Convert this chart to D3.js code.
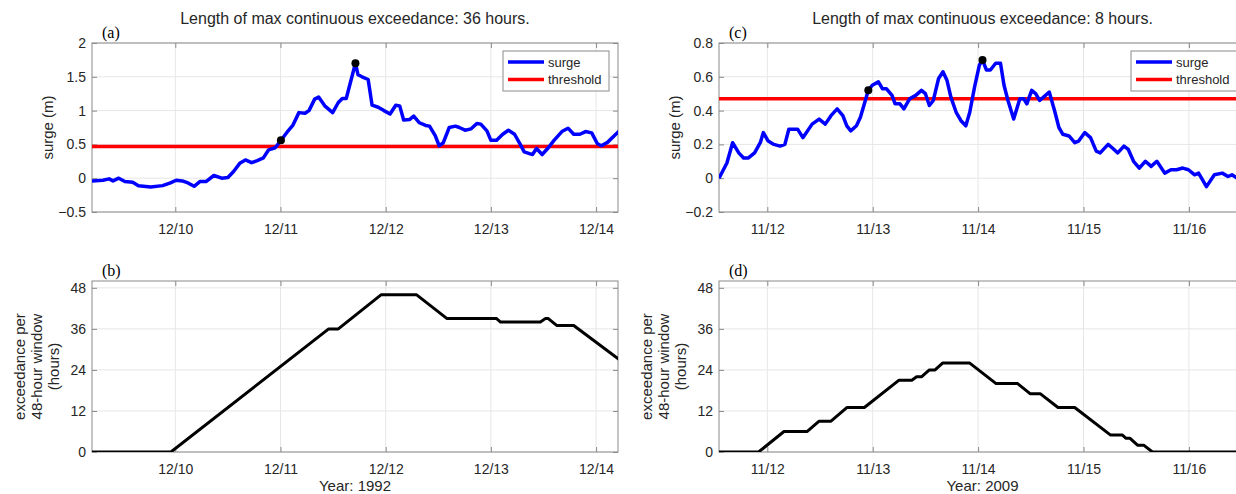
<!DOCTYPE html>
<html>
<head>
<meta charset="utf-8">
<script src="https://cdn.jsdelivr.net/npm/d3@7"></script>
<style>
  body { margin: 0; background: #fff; }
  svg { display: block; }
</style>
</head>
<body>
<div id="chart"></div>
<script>
// ---- data (hour offset from window start, value) ----
var startA = Date.UTC(1992, 11, 9, 5);
var startC = Date.UTC(2009, 10, 11, 13);

var surgeA = [[0,-0.04],[2.5,-0.03],[3.9,-0.01],[4.8,-0.04],[6.1,0.0],[7.5,-0.05],[9.3,-0.06],[10.6,-0.11],
  [13.4,-0.13],[16.1,-0.11],[17.9,-0.07],[19.2,-0.03],[20.6,-0.04],[21.9,-0.07],[23.3,-0.12],[24.6,-0.05],
  [26,-0.05],[27.8,0.04],[29.6,0.0],[31,0.01],[32.3,0.1],[33.7,0.22],[35,0.27],[36.4,0.23],[37.7,0.26],
  [39.1,0.3],[40.3,0.42],[41.8,0.45],[43.1,0.56],[44.5,0.68],[45.8,0.78],[47.2,0.97],[48.6,0.96],[49.5,1.0],
  [50.8,1.17],[51.7,1.2],[53.1,1.07],[54.9,0.97],[56.2,1.12],[57.1,1.18],[58,1.18],[60.1,1.7],[60.7,1.53],
  [61.6,1.5],[63,1.46],[63.9,1.08],[65.3,1.05],[66.6,1.0],[68,0.95],[69.3,1.08],[70.2,1.07],[71.1,0.86],
  [72.5,0.87],[73.4,0.92],[74.7,0.82],[76.1,0.78],[77,0.77],[78.3,0.63],[79.2,0.48],[80.1,0.52],[81.5,0.75],
  [82.9,0.77],[83.8,0.75],[85.1,0.71],[86.5,0.73],[87.8,0.81],[88.7,0.8],[90.1,0.7],[91,0.56],[92.3,0.56],
  [93.7,0.65],[95,0.71],[96.4,0.65],[97.7,0.5],[98.6,0.39],[100.5,0.35],[101.4,0.44],[102.7,0.35],[104.1,0.45],
  [105.4,0.56],[107.2,0.69],[108.6,0.74],[109.9,0.65],[111.3,0.65],[112.6,0.69],[114,0.67],[115.3,0.51],
  [116.2,0.48],[117.6,0.53],[120.3,0.7]];
var dotsA = [[43.1,0.56],[60.1,1.7]];
var thresholdA = 0.47;

var exceedB = [[0,0],[18,0],[54,36],[56.2,36],[66,46],[74,46],[81,39],[92.3,39],[93.2,38],[102.3,38],
  [103.4,39],[104.1,39],[106,37],[109.9,37],[120.3,27]];

var surgeC = [[0,0.0],[1.8,0.09],[3.1,0.21],[4.5,0.15],[5.6,0.12],[6.7,0.12],[8.1,0.15],[9.4,0.21],[10.1,0.27],
  [11.2,0.22],[12.5,0.2],[13.9,0.19],[15,0.2],[15.9,0.29],[17.9,0.29],[19.1,0.24],[21.2,0.32],[22.8,0.35],
  [24.2,0.32],[25.5,0.37],[26.9,0.41],[28.2,0.37],[29.1,0.31],[30,0.28],[31.3,0.31],[32.2,0.36],[33.1,0.44],
  [34,0.52],[34.9,0.55],[36.3,0.57],[37.2,0.53],[38.1,0.53],[39.4,0.49],[40.1,0.44],[41.2,0.44],[42.1,0.41],
  [43.4,0.47],[44.8,0.49],[46.1,0.52],[47,0.5],[47.9,0.43],[48.8,0.46],[50,0.59],[51,0.63],[51.9,0.58],
  [52.8,0.48],[54,0.39],[55.1,0.34],[56.2,0.31],[57.1,0.39],[58.2,0.54],[59.3,0.67],[60,0.7],[60.9,0.64],
  [61.8,0.64],[63,0.68],[64.1,0.68],[64.9,0.55],[65.8,0.46],[67.1,0.35],[68.5,0.47],[69.4,0.47],[70.1,0.44],
  [71.2,0.52],[72.1,0.5],[73,0.46],[73.9,0.48],[75.2,0.51],[76.4,0.4],[77.4,0.3],[78.3,0.26],[79.7,0.25],
  [81,0.21],[81.9,0.22],[83.3,0.27],[84.6,0.24],[85.9,0.16],[86.8,0.15],[88.6,0.2],[89.5,0.18],[90.8,0.15],
  [92.2,0.19],[93.2,0.17],[94.4,0.1],[95.7,0.06],[97.1,0.1],[98.4,0.07],[99.7,0.1],[101.5,0.03],[102.9,0.05],
  [104.2,0.05],[105.6,0.06],[106.9,0.05],[108.3,0.02],[109.2,0.03],[111,-0.05],[112.8,0.02],[114.6,0.03],
  [115.9,0.01],[116.8,0.02],[118,0.0],[120,0.01]];
var dotsC = [[34,0.52],[60,0.7]];
var thresholdC = 0.47;

var exceedD = [[0,0],[9,0],[14.8,6],[20.1,6],[22.8,9],[25.5,9],[29.1,13],[33.1,13],[41,21],[43.9,21],
  [45,22],[46.1,22],[47.9,24],[49.2,24],[50.9,26],[57.1,26],[63.1,20],[68,20],[70.9,17],[73.2,17],[77.2,13],
  [81,13],[89.1,5],[91.8,5],[92.7,4],[93.6,4],[95.3,2],[96.7,2],[98.7,0],[120,0]];

var surgeTicksA = [-0.5, 0, 0.5, 1, 1.5, 2];
var surgeTicksC = [-0.2, 0, 0.2, 0.4, 0.6, 0.8];
var hourTicks = [0, 12, 24, 36, 48];
var titles = ["Length of max continuous exceedance: 36 hours.", "Length of max continuous exceedance: 8 hours."];
var years = ["Year: 1992", "Year: 2009"];
var legendNames = ["surge", "threshold"];

// ---- layout ----
var W = 1236, H = 494;
var sans = "'Liberation Sans', Arial, Helvetica, sans-serif";
var serif = "'Liberation Serif', 'Times New Roman', serif";
var boxCol = "#8a8a8a", txtCol = "#262626", gridCol = "#e6e6e6";

var svg = d3.select("#chart").append("svg")
    .attr("width", W).attr("height", H)
    .style("font-family", sans);
svg.append("rect").attr("width", W).attr("height", H).attr("fill", "#fff");
var defs = svg.append("defs");

function hrs(start, h) { return new Date(start + h * 3600 * 1000); }

function makePanel(id, left, top, width, height, start, yDomain, yTicks, yFmt) {
    var g = svg.append("g").attr("transform", "translate(" + left + "," + top + ")");
    var x = d3.scaleUtc().domain([hrs(start, 0), hrs(start, 120)]).range([0, width]);
    var y = d3.scaleLinear().domain(yDomain).range([height, 0]);
    var days = d3.utcDay.range(hrs(start, 0.01), hrs(start, 120));

    defs.append("clipPath").attr("id", "clip-" + id)
        .append("rect").attr("width", width).attr("height", height);

    // grid
    g.append("g").selectAll("line.gx").data(days).enter().append("line")
        .attr("x1", function(d) { return x(d); }).attr("x2", function(d) { return x(d); })
        .attr("y1", 0).attr("y2", height)
        .attr("stroke", gridCol).attr("stroke-width", 1);
    g.append("g").selectAll("line.gy").data(yTicks).enter().append("line")
        .attr("x1", 0).attr("x2", width)
        .attr("y1", function(d) { return y(d); }).attr("y2", function(d) { return y(d); })
        .attr("stroke", gridCol).attr("stroke-width", 1);

    // axes, ticks pointing in (matlab style)
    var fmt = d3.utcFormat("%m/%d");
    var xb = g.append("g").attr("transform", "translate(0," + height + ")")
        .call(d3.axisBottom(x).tickValues(days).tickFormat(fmt).tickSizeInner(-5).tickSizeOuter(0).tickPadding(12));
    var xt = g.append("g")
        .call(d3.axisTop(x).tickValues(days).tickFormat("").tickSizeInner(-5).tickSizeOuter(0));
    var yl = g.append("g")
        .call(d3.axisLeft(y).tickValues(yTicks).tickFormat(yFmt).tickSizeInner(-5).tickSizeOuter(0).tickPadding(6));
    var yr = g.append("g").attr("transform", "translate(" + width + ",0)")
        .call(d3.axisRight(y).tickValues(yTicks).tickFormat("").tickSizeInner(-5).tickSizeOuter(0));
    [xb, xt, yl, yr].forEach(function(a) {
        a.select(".domain").remove();
        a.selectAll(".tick line").attr("stroke", boxCol);
        a.selectAll(".tick text").attr("fill", txtCol).style("font-size", "14px").style("font-family", sans);
    });

    g.append("rect").attr("width", width).attr("height", height)
        .attr("fill", "none").attr("stroke", boxCol).attr("stroke-width", 1);

    var plot = g.append("g").attr("clip-path", "url(#clip-" + id + ")");
    return { g: g, plot: plot, x: x, y: y, start: start, width: width, height: height };
}

function lineOf(p) {
    return d3.line()
        .x(function(d) { return p.x(hrs(p.start, d[0])); })
        .y(function(d) { return p.y(d[1]); });
}

function surgePanel(p, series, thr, dots) {
    p.plot.append("line")
        .attr("x1", 0).attr("x2", p.width)
        .attr("y1", p.y(thr)).attr("y2", p.y(thr))
        .attr("stroke", "#ff0000").attr("stroke-width", 3.5);
    p.plot.append("path").datum(series)
        .attr("d", lineOf(p))
        .attr("fill", "none").attr("stroke", "#0000ff")
        .attr("stroke-width", 3.5).attr("stroke-linejoin", "round");
    p.plot.selectAll("circle.dot").data(dots).enter().append("circle")
        .attr("cx", function(d) { return p.x(hrs(p.start, d[0])); })
        .attr("cy", function(d) { return p.y(d[1]); })
        .attr("r", 4).attr("fill", "#000");

    p.g.append("text")
        .attr("transform", "rotate(-90)")
        .attr("x", -p.height / 2).attr("y", -39)
        .attr("text-anchor", "middle").attr("fill", txtCol)
        .style("font-size", "15px")
        .text("surge (m)");

    // legend
    var lg = p.g.append("g").attr("transform", "translate(" + (p.width - 115) + ",8)");
    lg.append("rect").attr("width", 106).attr("height", 40)
        .attr("fill", "#fff").attr("stroke", boxCol).attr("stroke-width", 1);
    var cols = ["#0000ff", "#ff0000"];
    legendNames.forEach(function(n, i) {
        var yy = 11 + i * 17.5;
        lg.append("line").attr("x1", 5).attr("x2", 41).attr("y1", yy).attr("y2", yy)
            .attr("stroke", cols[i]).attr("stroke-width", 3.5);
        lg.append("text").attr("x", 45).attr("y", yy + 4.5)
            .attr("fill", txtCol).style("font-size", "13px").text(n);
    });
}

function exceedPanel(p, series, year) {
    p.plot.append("path").datum(series)
        .attr("d", lineOf(p))
        .attr("fill", "none").attr("stroke", "#000")
        .attr("stroke-width", 3).attr("stroke-linejoin", "round");

    var lab = p.g.append("text")
        .attr("transform", "rotate(-90)")
        .attr("text-anchor", "middle").attr("fill", txtCol)
        .style("font-size", "15px");
    ["exceedance per", "48-hour window", "(hours)"].forEach(function(s, i) {
        lab.append("tspan").attr("x", -p.height / 2).attr("y", -67 + i * 17).text(s);
    });

    p.g.append("text")
        .attr("x", p.width / 2).attr("y", p.height + 39)
        .attr("text-anchor", "middle").attr("fill", txtCol)
        .style("font-size", "15px")
        .text(year);
}

function letter(p, s) {
    p.g.append("text").attr("x", 10).attr("y", -5)
        .attr("fill", "#000").style("font-family", serif).style("font-size", "16px")
        .text(s);
}

function title(p, s) {
    p.g.append("text").attr("x", p.width / 2).attr("y", -19)
        .attr("text-anchor", "middle").attr("fill", txtCol)
        .style("font-size", "16px")
        .text(s);
}

var fmtSurge = function(d) { return d3.format("")(+d.toFixed(1)); };
var fmtHours = d3.format("d");

var pA = makePanel("a", 92, 43, 526, 169, startA, [-0.5, 2], surgeTicksA, fmtSurge);
var pB = makePanel("b", 92, 281, 526, 171, startA, [0, 50], hourTicks, fmtHours);
var pC = makePanel("c", 719, 43, 527, 169, startC, [-0.2, 0.8], surgeTicksC, fmtSurge);
var pD = makePanel("d", 719, 281, 527, 171, startC, [0, 50], hourTicks, fmtHours);

surgePanel(pA, surgeA, thresholdA, dotsA);
surgePanel(pC, surgeC, thresholdC, dotsC);
exceedPanel(pB, exceedB, years[0]);
exceedPanel(pD, exceedD, years[1]);

title(pA, titles[0]);
title(pC, titles[1]);
letter(pA, "(a)");
letter(pB, "(b)");
letter(pC, "(c)");
letter(pD, "(d)");
</script>
</body>
</html>
